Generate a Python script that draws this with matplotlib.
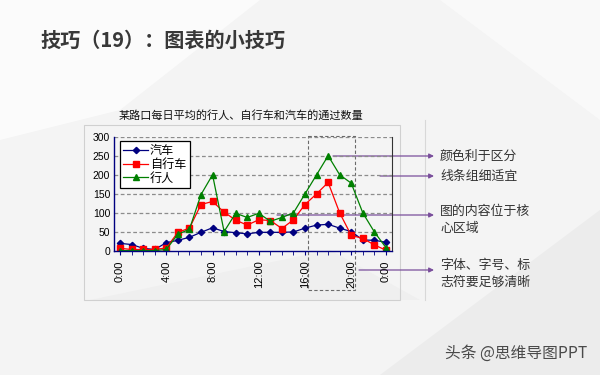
import matplotlib
matplotlib.use("Agg")
import matplotlib.pyplot as plt
from matplotlib.patches import Rectangle, Polygon

plt.rcParams['font.family'] = ['Noto Sans CJK SC', 'DejaVu Sans']

hours = list(range(24))
tick_pos = [0, 4, 8, 12, 16, 20, 23]
tick_labels = ["0:00", "4:00", "8:00", "12:00", "16:00", "20:00", "0:00"]
y_ticks = [0, 50, 100, 150, 200, 250, 300]

car = [20, 17, 7, 4, 22, 28, 36, 49, 61, 51, 48, 45, 49, 49, 49, 50, 60, 68, 70, 60, 51, 29, 28, 23]
bike = [7, 4, 4, 4, 8, 49, 60, 122, 130, 102, 81, 68, 82, 80, 59, 82, 122, 150, 180, 100, 41, 33, 16, 2]
walk = [1, 1, 1, 1, 4, 44, 57, 148, 200, 51, 99, 88, 99, 78, 88, 100, 150, 200, 250, 200, 178, 100, 50, 9]

series_names = ["汽车", "自行车", "行人"]
notes = ["颜色利于区分", "线条组细适宜", "图的内容位于核\n心区域", "字体、字号、标\n志符要足够清晰"]

W, H = 600, 375
fig = plt.figure(figsize=(6, 3.75), dpi=100, facecolor="#f4f4f4")

def fx(x):
    return x / W

def fy(y):
    return 1 - y / H

# subtle background polygons
bg = fig.add_axes([0, 0, 1, 1], zorder=-10)
bg.set_xlim(0, W); bg.set_ylim(H, 0); bg.axis("off")
bg.add_patch(Polygon([[0, 0], [260, 0], [120, 110], [0, 140]], closed=True, fc="#fbfbfb", ec="none"))
bg.add_patch(Polygon([[380, 375], [600, 210], [600, 375]], closed=True, fc="#ececec", ec="none"))
bg.add_patch(Polygon([[90, 300], [330, 250], [420, 300]], closed=True, fc="#efefef", ec="none"))
bg.add_patch(Polygon([[440, 0], [600, 0], [600, 120]], closed=True, fc="#f9f9f9", ec="none"))
# chart frame
bg.add_patch(Rectangle((84, 125), 316, 175, fc="none", ec="#d0d0d0", lw=0.8))
# separator line
bg.plot([425, 425], [120, 300], color="#d8d8d8", lw=0.8)

# main title
fig.text(fx(40), fy(40), "技巧（19）：图表的小技巧", fontsize=14.5, fontweight="bold",
         color="#383838", ha="left", va="center")

# chart title
fig.text(fx(241), fy(115), "某路口每日平均的行人、自行车和汽车的通过数量", fontsize=8,
         color="#111111", ha="center", va="center")

ax = fig.add_axes([fx(114.3), fy(251), fx(391.7) - fx(114.3), fy(136.7) - fy(251)])
ax.patch.set_alpha(0)
ax.plot(hours, car, color="#000080", marker="D", ms=3.2, lw=0.9, label=series_names[0])
ax.plot(hours, bike, color="#ff0000", marker="s", ms=4, lw=0.9, label=series_names[1])
ax.plot(hours, walk, color="#008000", marker="^", ms=4.2, lw=0.9, label=series_names[2])

ax.set_xlim(-0.5, 23.5)
ax.set_ylim(0, 300)
ax.set_yticks(y_ticks)
ax.set_yticklabels([str(v) for v in y_ticks], fontsize=7.5, family=["Liberation Sans"])
ax.set_xticks(tick_pos)
ax.set_xticklabels(tick_labels, rotation=90, fontsize=8, family=["Liberation Sans"])
ax.set_xticks(hours, minor=True)
ax.tick_params(axis="x", which="both", direction="out", length=3, color="#000080", pad=4)
ax.tick_params(axis="y", length=0, pad=3)
for v in y_ticks[1:]:
    ax.axhline(v, color="#8c8c8c", lw=0.9, ls=(0, (3, 2)), zorder=0)
ax.spines["left"].set_color("#000080")
ax.spines["bottom"].set_color("#000080")
ax.spines["left"].set_linewidth(1.0)
ax.spines["bottom"].set_linewidth(1.0)
ax.spines["top"].set_visible(False)
ax.spines["right"].set_color("#333333")
ax.spines["right"].set_linewidth(0.8)

leg = ax.legend(loc="upper left", bbox_to_anchor=(0.02, 0.965), fontsize=8.7, frameon=True,
                fancybox=False, edgecolor="black", framealpha=1, borderpad=0.3,
                labelspacing=0.05, handlelength=2.0, handletextpad=0.2, borderaxespad=0)
leg.get_frame().set_linewidth(0.9)

# dashed highlight box
bg.add_patch(Rectangle((307.7, 136), 47.3, 154, fc="none", ec="#6a6a6a", lw=0.8, ls=(0, (3, 2))))

# annotation arrows
arrow_color = "#7a4f9c"
arrows = [(333, 156), (380, 176), (277, 215), (359, 270)]
for (x0, y0) in arrows:
    bg.annotate("", xy=(434, y0), xytext=(x0, y0),
                arrowprops=dict(arrowstyle="-|>", color=arrow_color, lw=0.9,
                                mutation_scale=7, shrinkA=0, shrinkB=0))

text_pos = [156, 176, 220, 274]
for t, y in zip(notes, text_pos):
    fig.text(fx(440), fy(y), t, fontsize=9.3, color="#333333", ha="left", va="center",
             linespacing=1.35)

# watermark
fig.text(fx(445), fy(353), "头条 @思维导图PPT", fontsize=11.3, color="#4a4a4a",
         ha="left", va="center")

fig.savefig("out.png", dpi=100, facecolor=fig.get_facecolor())
